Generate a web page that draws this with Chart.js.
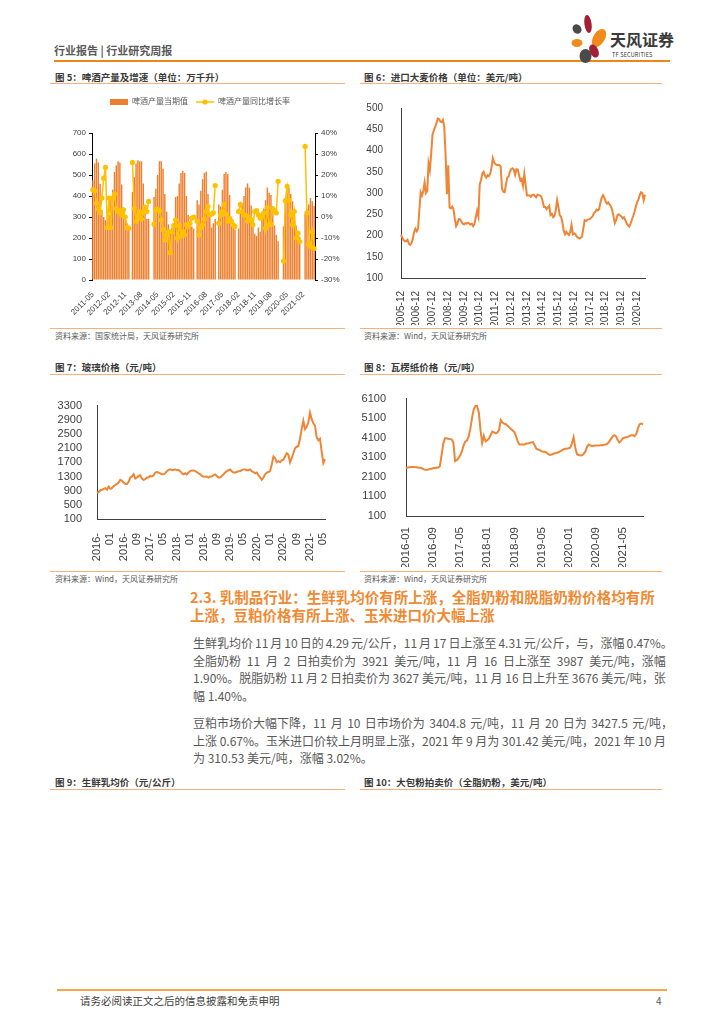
<!DOCTYPE html>
<html><head><meta charset="utf-8">
<script src="https://cdn.jsdelivr.net/npm/chart.js@4.4.0/dist/chart.umd.min.js"></script>
<style>
html,body{margin:0;padding:0;background:#fff;}
body{width:724px;height:1024px;position:relative;overflow:hidden;font-family:"Noto Sans CJK SC","Noto Sans",sans-serif;}
.ftitle{position:absolute;font-size:9.5px;font-weight:bold;color:#3a3a3a;line-height:14px;white-space:nowrap;}
.fline{position:absolute;height:1px;background:#F5B07C;}
.src{position:absolute;font-size:8px;color:#595959;line-height:12px;white-space:nowrap;}
canvas{position:absolute;}
.para{position:absolute;left:193px;width:473px;font-size:12px;color:#595959;}
.para .ln{height:17.7px;line-height:17.7px;white-space:nowrap;}
.para .jf{display:flex;justify-content:space-between;}
.head{position:absolute;left:190px;top:588px;font-size:14.5px;font-weight:bold;color:#F08A32;line-height:18px;white-space:nowrap;}
</style></head>
<body>
<!-- header -->
<div style="position:absolute;left:54px;top:43px;font-size:11px;font-weight:bold;color:#595959;line-height:15px;white-space:nowrap;">行业报告 | 行业研究周报</div>
<div style="position:absolute;left:54px;top:60px;width:616px;height:1.5px;background:#F08519;"></div>
<svg style="position:absolute;left:566px;top:10px;" width="44" height="56" viewBox="0 0 44 56">
  <ellipse cx="22" cy="14" rx="3.6" ry="9" fill="#A21F35" transform="rotate(-8 22 14)"/>
  <ellipse cx="11" cy="19" rx="4.2" ry="5" fill="#4A4A4A" transform="rotate(-35 11 19)"/>
  <ellipse cx="33" cy="28" rx="5.8" ry="10" fill="#F18A1D" transform="rotate(32 33 28)"/>
  <ellipse cx="11" cy="33" rx="5.5" ry="4" fill="#F18A1D"/>
  <ellipse cx="19.5" cy="46" rx="6" ry="7" fill="#4A4A4A"/>
  <ellipse cx="28" cy="41" rx="4.3" ry="7" fill="#A21F35" transform="rotate(-25 28 41)"/>
</svg>
<div style="position:absolute;left:610px;top:29px;font-size:16px;font-weight:bold;color:#3a3a3a;line-height:20px;white-space:nowrap;">天风证券</div>
<div style="position:absolute;left:612px;top:52px;font-size:5.5px;color:#333;line-height:7px;white-space:nowrap;letter-spacing:0.2px;">TF SECURITIES</div>

<!-- figure 5/6 titles -->
<div class="ftitle" style="left:55px;top:70px;">图 5：啤酒产量及增速（单位：万千升）</div>
<div class="fline" style="left:50px;top:83px;width:295px;"></div>
<div class="ftitle" style="left:364px;top:70px;">图 6：进口大麦价格（单位：美元/吨）</div>
<div class="fline" style="left:360px;top:83px;width:302px;"></div>

<canvas id="c5" width="300" height="235" style="left:50px;top:90px;"></canvas>
<canvas id="c6" width="302" height="233" style="left:360px;top:92px;"></canvas>

<div class="fline" style="left:50px;top:328px;width:295px;"></div>
<div class="src" style="left:55px;top:330px;">资料来源：国家统计局，天风证券研究所</div>
<div class="fline" style="left:360px;top:328px;width:302px;"></div>
<div class="src" style="left:364px;top:330px;">资料来源：Wind，天风证券研究所</div>

<!-- figure 7/8 -->
<div class="ftitle" style="left:55px;top:360px;">图 7：玻璃价格（元/吨）</div>
<div class="fline" style="left:50px;top:374px;width:295px;"></div>
<div class="ftitle" style="left:364px;top:360px;">图 8：瓦楞纸价格（元/吨）</div>
<div class="fline" style="left:360px;top:374px;width:302px;"></div>

<canvas id="c7" width="295" height="175" style="left:50px;top:392px;"></canvas>
<canvas id="c8" width="302" height="187" style="left:360px;top:380px;"></canvas>

<div class="fline" style="left:50px;top:571px;width:295px;"></div>
<div class="src" style="left:55px;top:573px;">资料来源：Wind，天风证券研究所</div>
<div class="fline" style="left:360px;top:571px;width:302px;"></div>
<div class="src" style="left:364px;top:573px;">资料来源：Wind，天风证券研究所</div>

<!-- section text -->
<div class="head">2.3. 乳制品行业：生鲜乳均价有所上涨，全脂奶粉和脱脂奶粉价格均有所<br>上涨，豆粕价格有所上涨、玉米进口价大幅上涨</div>
<div class="para" style="top:634px;" id="p1"></div>
<div class="para" style="top:714px;" id="p2"></div>

<!-- figure 9/10 titles -->
<div class="ftitle" style="left:55px;top:775px;">图 9：生鲜乳均价（元/公斤）</div>
<div class="fline" style="left:50px;top:789px;width:295px;"></div>
<div class="ftitle" style="left:364px;top:775px;">图 10：大包粉拍卖价（全脂奶粉，美元/吨）</div>
<div class="fline" style="left:360px;top:789px;width:302px;"></div>

<!-- footer -->
<div style="position:absolute;left:57px;top:989px;width:610px;height:1.5px;background:#F5A64A;"></div>
<div style="position:absolute;left:80px;top:993px;font-size:10.5px;color:#404040;line-height:15px;white-space:nowrap;">请务必阅读正文之后的信息披露和免责申明</div>
<div style="position:absolute;left:656px;top:993px;font-size:10px;color:#595959;line-height:15px;">4</div>

<script>
// ---------------- DATA ----------------
// Fig 5: beer output (10k kL) & YoY (%), monthly 2011-05 .. 2021-08
const beerTicks = ['2011-05','2012-02','2012-11','2013-08','2014-05','2015-02','2015-11','2016-08','2017-05','2018-02','2018-11','2019-08','2020-05','2021-02'];
const beerOutput = [
  475,555,578,560,458,335,300,285,
  275,310,390,430,515,545,565,560,455,345,290,270,
  255,null,420,490,555,570,565,565,460,350,290,292,
  null,null,395,435,500,565,565,530,410,325,265,238,
  250,262,395,400,460,510,520,510,400,310,255,255,
  245,null,380,360,425,480,510,515,410,300,250,270,
  290,null,360,350,430,505,515,505,405,300,250,240,
  null,245,330,360,400,440,460,440,355,265,220,210,
  250,230,320,340,380,440,415,405,320,260,215,185,
  null,null,255,390,440,440,410,375,335,260,215,205,
  null,null,315,340,360,390,375,352
];
const beerYoY = [
  13,12.5,6.6,4,2,9,18.5,23.6,
  -5,9,-5,9,11,4,2.6,3,1,3.4,0,-5,
  -5.3,null,26,4,-2,0.7,2.6,-1,2,4.7,2.6,7.4,
  null,null,-3.4,3.4,3.7,3,-1.3,-6,-11,-8.5,-7,-17,
  -7,-4,-1.3,-10,-4,-9,-7,-8.5,-3.7,-4.5,-3,-0.5,
  0,null,-2,-8.5,-5,-3.7,-1,2.6,5,1,1.4,2,
  15,null,-3,1,2.6,6,1.4,-2,-0.5,-2,-3.7,-4.5,
  null,2.6,6,2.6,1,0.7,-2,0,-1.3,-3.7,2.6,3,
  1,-0.5,0,2,-5.3,4.5,-3.7,-3.4,4,3,2,17,
  null,null,-21,7.7,14.6,8,1,-3.7,2.6,-10,-7.7,-11.7,
  null,null,33.6,2,-13,-14,-7,-15
];
// Fig 6: imported barley price (USD/t), monthly 2005-12 .. 2021-06
const barleyTicks = ['2005-12','2006-12','2007-12','2008-12','2009-12','2010-12','2011-12','2012-12','2013-12','2014-12','2015-12','2016-12','2017-12','2018-12','2019-12','2020-12'];
const barleyPrice = [
  202,195,189,186,187,190,181,178,182,192,208,216,
  210,216,260,302,294,304,325,300,305,370,354,392,
  437,447,455,464,475,474,468,467,472,455,390,297,
  365,266,264,268,262,240,222,228,239,238,233,228,
  226,229,228,230,228,226,228,222,227,243,258,245,
  320,330,346,350,341,336,342,340,345,360,382,372,
  368,366,366,366,362,310,303,302,320,336,339,350,
  356,358,355,343,356,355,342,330,333,317,345,320,
  294,294,294,291,295,296,293,290,296,295,294,291,
  280,267,267,262,266,270,248,251,243,246,260,283,
  267,248,244,232,212,203,209,204,201,208,225,203,
  205,203,197,195,193,195,197,217,236,234,237,238,
  239,242,245,252,255,261,259,262,277,289,295,289,
  280,275,278,273,269,260,245,229,236,248,250,247,
  245,240,243,236,229,224,221,228,237,246,256,268,
  278,285,295,302,300,283,296
];
// Fig 7: glass price (CNY/t), half-monthly from 2016-01
const glassTicks = ['2016-01','2016-09','2017-05','2018-01','2018-09','2019-05','2020-01','2020-09','2021-05'];
const glassPrice = [
  840,860,905,925,950,970,930,1015,950,970,
  1025,1060,1090,1130,1205,1180,1130,1090,1090,1150,
  1270,1300,1360,1240,1270,1315,1335,1240,1205,1225,
  1270,1270,1315,1300,1335,1410,1425,1410,1390,1360,
  1360,1390,1450,1480,1500,1480,1480,1500,1480,1480,
  1450,1390,1360,1390,1360,1410,1450,1470,1470,1450,
  1425,1390,1360,1315,1300,1290,1300,1270,1300,1300,
  1335,1360,1315,1270,1270,1315,1360,1410,1450,1480,
  1500,1450,1410,1410,1425,1450,1450,1480,1500,1500,
  1470,1480,1500,1450,1425,1390,1410,1335,1270,1205,
  1270,1360,1410,1425,1450,1635,1865,1820,1700,1730,
  1700,1755,1775,1865,1955,1910,1700,1820,1955,2095,
  2140,2160,2365,2640,2870,2640,2705,2825,3100,2915,
  2800,2735,2410,2320,2365,2000,1680,1790
];
// Fig 8: corrugated paper price (CNY/t), half-monthly from 2016-01
const paperTicks = ['2016-01','2016-09','2017-05','2018-01','2018-09','2019-05','2020-01','2020-09','2021-05'];
const paperPrice = [
  2560,2580,2590,2600,2605,2610,2595,2580,2565,2550,
  2510,2470,2450,2470,2500,2520,2535,2550,2565,2580,
  2650,3200,3800,4070,4070,4050,4040,4010,3850,2900,
  2950,3050,3190,3400,3700,3900,3960,4150,4550,5100,
  5550,5720,5720,5400,4500,3830,4200,3910,3970,4050,
  4240,4420,4380,4320,4370,4500,5000,4880,4820,4790,
  4710,4630,4550,4470,4390,4180,3910,3750,3750,3750,
  3750,3800,3800,3830,3860,3880,3720,3540,3500,3470,
  3420,3380,3380,3340,3260,3220,3240,3280,3310,3330,
  3360,3400,3450,3500,3540,3540,3560,3590,3800,4120,
  3590,3260,3220,3190,3200,3280,3400,3650,3750,3700,
  3680,3690,3700,3700,3700,3710,3720,3735,3750,3800,
  3900,4030,4170,4230,4180,3990,3860,3940,4070,4100,
  4120,4150,4180,4230,4230,4180,4290,4580,4790,4820,4790
];
// text
const para1 = [
  '生鲜乳均价 11 月 10 日的 4.29 元/公斤，11 月 17 日上涨至 4.31 元/公斤，与，涨幅 0.47%。',
  '全脂奶粉 11 月 2 日拍卖价为 3921 美元/吨，11 月 16 日上涨至 3987 美元/吨，涨幅',
  '1.90%。脱脂奶粉 11 月 2 日拍卖价为 3627 美元/吨，11 月 16 日上升至 3676 美元/吨，张',
  '幅 1.40%。'
];
const para2 = [
  '豆粕市场价大幅下降，11 月 10 日市场价为 3404.8 元/吨，11 月 20 日为 3427.5 元/吨，',
  '上涨 0.67%。玉米进口价较上月明显上涨，2021 年 9 月为 301.42 美元/吨，2021 年 10 月',
  '为 310.53 美元/吨，涨幅 3.02%。'
];

// ---------------- helpers ----------------
function monthSeq(y, m, n){ const out=[]; for(let i=0;i<n;i++){ const t=(m-1)+i; out.push((y+Math.floor(t/12))+'-'+String(t%12+1).padStart(2,'0')); } return out; }
function halfMonthSeq(y, m, n){ const out=[]; for(let i=0;i<n;i++){ const t=(m-1)+Math.floor(i/2); out.push((y+Math.floor(t/12))+'-'+String(t%12+1).padStart(2,'0')+(i%2?'下':'上')); } return out; }
function fillPara(id, lines){
  const el=document.getElementById(id);
  lines.forEach((ln,idx)=>{
    const d=document.createElement('div');
    d.className='ln';
    if(idx<lines.length-1){
      d.classList.add('jf');
      ln.split(' ').forEach(tok=>{ const s=document.createElement('span'); s.textContent=tok; d.appendChild(s); });
      if(idx===0) d.style.width='480px';
    } else { d.textContent=ln; }
    el.appendChild(d);
  });
}
fillPara('p1', para1);
fillPara('p2', para2);

Chart.defaults.font.family = "'Liberation Sans','Noto Sans CJK SC',sans-serif";
Chart.defaults.animation = false;

const ORANGE = '#EF8535';
const AXIS = '#404040';
const TICK = '#404040';

// ---------------- Fig 5 ----------------
const legendSpacer = { id:'legendSpacer', beforeLayout(chart){ const lg=chart.legend; if(lg && !lg._patched){ const f=lg.fit; lg.fit=function(){ f.call(this); this.height += 17; }; lg._patched=true; } } };
const legendLineMarker = { id:'legendLineMarker', afterDraw(chart){
  const lg=chart.legend; if(!lg || !lg.legendHitBoxes) return;
  lg.legendItems.forEach((it,i)=>{
    if(it.datasetIndex!==1) return;
    const hb=lg.legendHitBoxes[i]; const ctx=chart.ctx;
    const cy=hb.top+hb.height/2, x0=hb.left, x1=hb.left+18;
    ctx.save(); ctx.strokeStyle='#FFC000'; ctx.lineWidth=1.5;
    ctx.beginPath(); ctx.moveTo(x0,cy); ctx.lineTo(x1,cy); ctx.stroke();
    ctx.fillStyle='#FFC000'; ctx.beginPath(); ctx.arc((x0+x1)/2,cy,2.6,0,Math.PI*2); ctx.fill();
    ctx.restore();
  });
}};
new Chart(document.getElementById('c5'), {
  data: {
    labels: monthSeq(2011,5,beerOutput.length),
    datasets: [
      { type:'bar', label:'啤酒产量当期值', data: beerOutput, backgroundColor:'#EE7F2D', yAxisID:'y', barPercentage:1, categoryPercentage:0.8, order:1 },
      { type:'line', label:'啤酒产量同比增长率', data: beerYoY, borderColor:'#FFC000', backgroundColor:'#FFC000', borderWidth:1.5, pointRadius:2.6, pointBorderWidth:0, pointBackgroundColor:'#FFC000', spanGaps:false, tension:0, yAxisID:'y1', order:0 }
    ]
  },
  options: {
    responsive:false, animation:false,
    layout:{ padding:{ top:0, left:0, right:0, bottom:0 } },
    plugins:{
      tooltip:{enabled:false},
      legend:{ position:'top', labels:{ boxWidth:18, boxHeight:6, padding:8, color:'#595959', font:{size:8},
        sort:(a,b)=>a.datasetIndex-b.datasetIndex,
        generateLabels:(chart)=>{ const items=Chart.defaults.plugins.legend.labels.generateLabels(chart);
          items.forEach(it=>{ if(it.datasetIndex===1){ it.fillStyle='rgba(0,0,0,0)'; it.strokeStyle='rgba(0,0,0,0)'; it.lineWidth=0; } else { it.lineWidth=0; } });
          return items; } } }
    },
    scales:{
      x:{ offset:true, grid:{display:false}, border:{display:false},
          ticks:{ autoSkip:false, minRotation:45, maxRotation:45, color:TICK, font:{size:8}, padding:2,
                  callback:(v,i)=> (i%9===0 && beerTicks[i/9]) ? beerTicks[i/9] : '' },
          afterFit:(a)=>{ a.height=45; } },
      y:{ position:'left', min:0, max:700, ticks:{ stepSize:100, autoSkip:false, color:TICK, font:{size:8}, padding:3, callback:(v)=>String(v) },
          grid:{ display:true, drawOnChartArea:false, drawTicks:true, tickLength:3, color:'#000' },
          border:{ display:true, color:'#000' }, afterFit:(a)=>{ a.width=42; } },
      y1:{ position:'right', min:-30, max:40, ticks:{ stepSize:10, autoSkip:false, color:TICK, font:{size:8}, padding:3, callback:(v)=>v+'%' },
          grid:{ display:true, drawOnChartArea:false, drawTicks:true, tickLength:3, color:'#000' },
          border:{ display:true, color:'#000' }, afterFit:(a)=>{ a.width=35; } }
    }
  },
  plugins:[legendSpacer, legendLineMarker]
});

// ---------------- line chart factory ----------------
function lineChart(id, labels, data, opt){
  return new Chart(document.getElementById(id), {
    type:'line',
    data:{ labels, datasets:[{ data, borderColor:ORANGE, borderWidth:2, pointRadius:0, tension:0, fill:false }] },
    options:{
      responsive:false, animation:false,
      layout:{ padding:{ top:opt.padTop, right:opt.padRight, left:0, bottom:0 } },
      plugins:{ legend:{display:false}, tooltip:{enabled:false} },
      scales:{
        x:{ grid:{display:false}, border:{display:true, color:AXIS, width:1},
            ticks:{ autoSkip:false, minRotation:90, maxRotation:90, color:TICK, font:{size:opt.xFont}, padding:opt.xPad, callback:opt.xCb },
            afterFit:(a)=>{ a.height=opt.xH; } },
        y:{ min:opt.min, max:opt.max, grid:{display:false}, border:{display:true, color:AXIS, width:1},
            ticks:{ stepSize:opt.step, autoSkip:false, color:TICK, font:{size:opt.yFont}, padding:opt.yPad, callback:(v)=>String(v) },
            afterFit:(a)=>{ a.width=opt.yW; } }
      }
    }
  });
}

lineChart('c6', monthSeq(2005,12,barleyPrice.length), barleyPrice, {
  padTop:11, padRight:7, min:100, max:500, step:50, yFont:10, yPad:10, yW:41,
  xFont:10, xPad:5, xH:47, xCb:(v,i)=> (i%12===0 && barleyTicks[i/12]) ? barleyTicks[i/12] : ''
});
lineChart('c7', halfMonthSeq(2016,1,glassPrice.length), glassPrice, {
  padTop:11, padRight:20, min:100, max:3300, step:400, yFont:11, yPad:7, yW:47,
  xFont:11, xPad:6, xH:48, xCb:(v,i)=> (i%16===0 && glassTicks[i/16]) ? [glassTicks[i/16].slice(0,5), glassTicks[i/16].slice(5)] : ''
});
lineChart('c8', halfMonthSeq(2016,1,paperPrice.length), paperPrice, {
  padTop:11, padRight:19, min:100, max:6100, step:1000, yFont:11, yPad:12, yW:46,
  xFont:11.5, xPad:3, xH:51, xCb:(v,i)=> (i%16===0 && paperTicks[i/16]) ? paperTicks[i/16] : ''
});
</script>
</body></html>
